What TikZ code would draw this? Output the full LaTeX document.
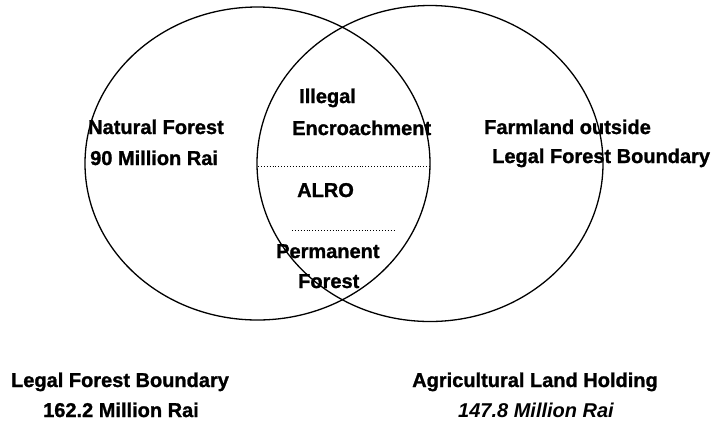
\documentclass[tikz,border=0pt]{standalone}
\usepackage{fontspec}
\setmainfont{Liberation Sans}[BoldFeatures={FakeBold=1.2}]
\begin{document}
\begin{tikzpicture}[x=1pt,y=-1pt,
  lbl/.style={inner sep=0pt, anchor=base west, font=\fontsize{20}{24}\selectfont\bfseries},
  clbl/.style={lbl, anchor=base},
  ring/.style={draw=black, line width=1.3pt},
  sep/.style={draw=black, dotted, line width=0.9pt}]
\useasboundingbox (0,0) rectangle (712,424);
\fill[white] (0,0) rectangle (712,424);
% circles
\draw[ring] (257.5,163.5) ellipse [x radius=172.5pt, y radius=156.5pt];
\draw[ring] (430,163.5) ellipse [x radius=173pt, y radius=158pt];
% dotted separators
\coordinate (d1a) at (258,166);
\coordinate (d1b) at (430,166);
\coordinate (d2a) at (292,230);
\coordinate (d2b) at (394,230);
\draw[sep] (d1a) -- (d1b);
\draw[sep] (d2a) -- (d2b);
% labels
\node[lbl] (nat) at (88,134) {Natural Forest};
\node[lbl] (nat2) at (90,165) {90 Million Rai};
\node[lbl] (ill) at (299,103) {Illegal};
\node[lbl] (enc) at (292,135) {Encroachment};
\node[lbl] (farm) at (484,134) {Farmland outside};
\node[lbl] (farm2) at (492,163) {Legal Forest Boundary};
\node[lbl] (alro) at (297,197) {ALRO};
\node[lbl] (perm) at (276,258) {Permanent};
\node[lbl] (perm2) at (298,288) {Forest};
\node[clbl] (lfb) at (120,387) {Legal Forest Boundary};
\node[clbl] (lfb2) at (121,417) {162.2 Million Rai};
\node[clbl] (alh) at (535,387) {Agricultural Land Holding};
\node[clbl, font=\fontsize{20}{24}\selectfont\bfseries\itshape] (alh2) at (536,417) {147.8 Million Rai};
\end{tikzpicture}
\end{document}
